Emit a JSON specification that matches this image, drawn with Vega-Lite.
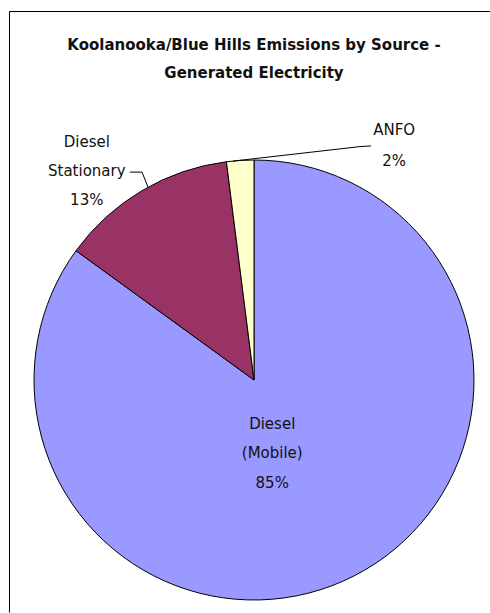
{
  "$schema": "https://vega.github.io/schema/vega-lite/v6.json",
  "autosize": {"type": "none"},
  "padding": {"left": 34, "top": 160, "right": 18, "bottom": 13},
  "width": 440,
  "height": 440,
  "background": "white",
  "config": {
    "view": {"stroke": null},
    "font": "DejaVu Sans"
  },
  "title": {
    "text": ["Koolanooka/Blue Hills Emissions by Source -", "Generated Electricity"],
    "font": "DejaVu Sans",
    "fontSize": 15,
    "fontWeight": "bold",
    "color": "#111",
    "lineHeight": 28,
    "anchor": "middle",
    "frame": "group",
    "offset": -69.5
  },
  "data": {
    "values": [
      {"source": "Diesel (Mobile)", "pct": 85},
      {"source": "Diesel Stationary", "pct": 13},
      {"source": "ANFO", "pct": 2}
    ]
  },
  "transform": [
    {"stack": "pct", "groupby": [], "sort": [{"field": "pct", "order": "descending"}], "as": ["t0", "t1"]},
    {"calculate": "(datum.t0 + datum.t1) / 2", "as": "mid"},
    {"calculate": "datum.source + ' ' + datum.pct + '%'", "as": "label"}
  ],
  "encoding": {
    "x": {"type": "quantitative", "scale": {"domain": [-1, 1], "nice": false, "zero": false}, "axis": null},
    "y": {"type": "quantitative", "scale": {"domain": [-1, 1], "nice": false, "zero": false}, "axis": null}
  },
  "layer": [
    {
      "data": {"values": [{}]},
      "mark": {"type": "rule", "color": "#000", "strokeWidth": 1},
      "encoding": {"x": {"datum": -1.1114}, "y": {"datum": 1.675}, "x2": {"datum": 1.08}, "y2": {"datum": 1.675}}
    },
    {
      "data": {"values": [{}]},
      "mark": {"type": "rule", "color": "#000", "strokeWidth": 1},
      "encoding": {"x": {"datum": -1.1114}, "y": {"datum": 1.675}, "x2": {"datum": -1.1114}, "y2": {"datum": -1.057}}
    },
    {
      "mark": {"type": "arc", "stroke": "#000", "strokeWidth": 1},
      "encoding": {
        "x": null,
        "y": null,
        "theta": {"field": "t0", "type": "quantitative", "stack": null, "scale": {"domain": [0, 100], "zero": true, "nice": false}},
        "theta2": {"field": "t1"},
        "color": {
          "field": "source",
          "type": "nominal",
          "scale": {
            "domain": ["Diesel (Mobile)", "Diesel Stationary", "ANFO"],
            "range": ["#9999FF", "#993366", "#FFFFCC"]
          },
          "legend": null
        }
      }
    },
    {
      "data": {"values": [{}]},
      "mark": {"type": "rule", "color": "#000", "strokeWidth": 1},
      "encoding": {"x": {"datum": -0.564}, "y": {"datum": 0.945}, "x2": {"datum": -0.509}, "y2": {"datum": 0.945}}
    },
    {
      "data": {"values": [{}]},
      "mark": {"type": "rule", "color": "#000", "strokeWidth": 1},
      "encoding": {"x": {"datum": -0.509}, "y": {"datum": 0.945}, "x2": {"datum": -0.482}, "y2": {"datum": 0.877}}
    },
    {
      "data": {"values": [{}]},
      "mark": {"type": "rule", "color": "#000", "strokeWidth": 1},
      "encoding": {"x": {"datum": -0.095}, "y": {"datum": 0.995}, "x2": {"datum": 0.482}, "y2": {"datum": 1.061}}
    },
    {
      "data": {"values": [{}]},
      "mark": {"type": "rule", "color": "#000", "strokeWidth": 1},
      "encoding": {"x": {"datum": 0.482}, "y": {"datum": 1.061}, "x2": {"datum": 0.532}, "y2": {"datum": 1.064}}
    },
    {
      "transform": [{"filter": "datum.source === 'Diesel (Mobile)'"}],
      "mark": {"type": "text", "radius": 82, "dx": -19, "dy": -29.5, "fontSize": 15, "color": "#111", "lineBreak": " ", "lineHeight": 29.5, "baseline": "middle", "align": "center"},
      "encoding": {
        "x": null,
        "y": null,
        "theta": {"field": "mid", "type": "quantitative", "stack": null},
        "text": {"field": "label"}
      }
    },
    {
      "transform": [{"filter": "datum.source === 'Diesel Stationary'"}],
      "mark": {"type": "text", "radius": 244, "dx": -43, "dy": -28, "fontSize": 15, "color": "#111", "lineBreak": " ", "lineHeight": 29, "baseline": "middle", "align": "center"},
      "encoding": {
        "x": null,
        "y": null,
        "theta": {"field": "mid", "type": "quantitative", "stack": null},
        "text": {"field": "label"}
      }
    },
    {
      "transform": [{"filter": "datum.source === 'ANFO'"}],
      "mark": {"type": "text", "radius": 236.5, "dx": 155, "dy": -14, "fontSize": 15, "color": "#111", "lineBreak": " ", "lineHeight": 31, "baseline": "middle", "align": "center"},
      "encoding": {
        "x": null,
        "y": null,
        "theta": {"field": "mid", "type": "quantitative", "stack": null},
        "text": {"field": "label"}
      }
    }
  ]
}
